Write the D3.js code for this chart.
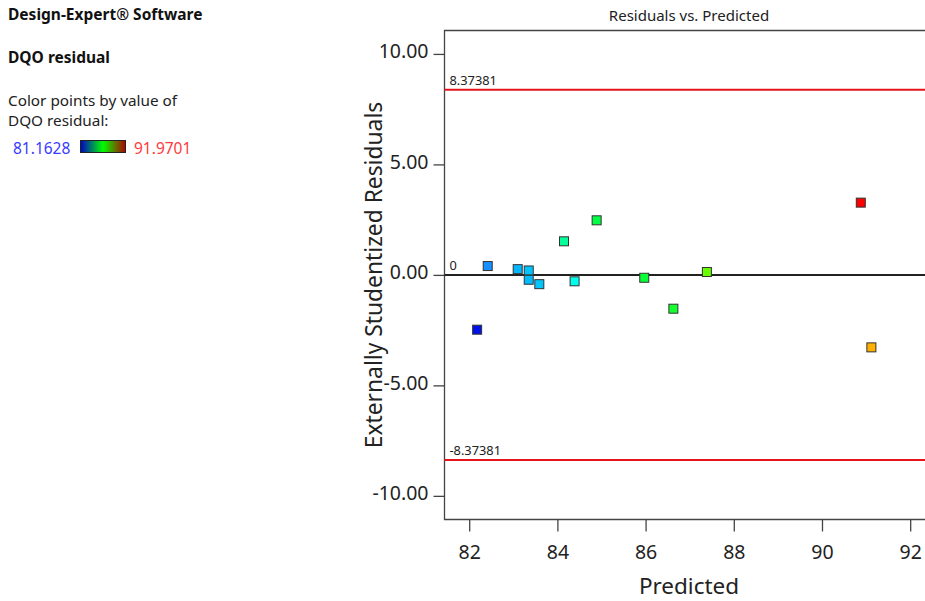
<!DOCTYPE html>
<html>
<head>
<meta charset="utf-8">
<script src="https://cdn.jsdelivr.net/npm/d3@7"></script>
<style>
  body { margin: 0; background: #fff; }
  svg { display: block; font-family: "Noto Sans", "Open Sans", sans-serif; }
</style>
</head>
<body>
<svg id="chart" width="925" height="601"></svg>
<script>
// predicted values, externally studentized residuals and DQO residual (colour)
const predicted = [82.18, 82.42, 83.10, 83.35, 83.35, 83.59, 84.15, 84.39, 84.89, 85.97, 86.63, 87.39, 90.88, 91.12];
const residuals = [-2.48, 0.40, 0.26, 0.20, -0.22, -0.42, 1.52, -0.29, 2.47, -0.13, -1.53, 0.13, 3.27, -3.28];
const dqo = [81.16, 82.55, 83.19, 83.42, 83.28, 83.45, 84.65, 84.29, 85.70, 85.93, 86.13, 87.43, 91.97, 90.00];
const xTicks = [82, 84, 86, 88, 90, 92];
const yTicks = [-10, -5, 0, 5, 10];
const limit = 8.37381;
const dqoMin = 81.1628, dqoMax = 91.9701;

const svg = d3.select("#chart");

// plot area
const plotLeft = 444.5, plotRight = 934, plotTop = 30.5, plotBottom = 519.5;

const x = d3.scaleLinear().domain([81.44, 92.54]).range([plotLeft, plotRight]);
const y = d3.scaleLinear().domain([-11.07, 11.06]).range([plotBottom, plotTop]);

const color = d3.scaleLinear()
    .domain([81.16, 82.5, 83.3, 84.3, 84.65, 85.8, 87.4, 90.0, 91.97])
    .range(["#0010e8", "#1a8cff", "#00bcff", "#00ffee", "#00ff99", "#00ff3c", "#66ff00", "#ffb000", "#ff0000"])
    .clamp(true);

const hyphen = s => s.replace("\u2212", "-");

// left side info text
svg.append("text").attr("x", 8).attr("y", 20)
    .attr("font-size", 15.5).attr("font-weight", "bold").attr("fill", "#111")
    .text("Design-Expert® Software");
svg.append("text").attr("x", 8).attr("y", 63)
    .attr("font-size", 15.5).attr("font-weight", "bold").attr("fill", "#111")
    .text("DQO residual");
svg.append("text").attr("x", 8).attr("y", 106)
    .attr("font-size", 15.3).attr("fill", "#222")
    .text("Color points by value of");
svg.append("text").attr("x", 8).attr("y", 126)
    .attr("font-size", 15.3).attr("fill", "#222")
    .text("DQO residual:");

const grad = svg.append("defs").append("linearGradient").attr("id", "legendGrad");
grad.append("stop").attr("offset", "0%").attr("stop-color", "#0000c8");
grad.append("stop").attr("offset", "50%").attr("stop-color", "#00ff00");
grad.append("stop").attr("offset", "100%").attr("stop-color", "#b00000");

svg.append("text").attr("x", 13).attr("y", 153.5)
    .attr("font-size", 15.5).attr("fill", "#3a3aff")
    .text(dqoMin.toFixed(4));
svg.append("rect").attr("x", 80.5).attr("y", 140.5).attr("width", 45).attr("height", 12)
    .attr("fill", "url(#legendGrad)").attr("stroke", "#222").attr("stroke-width", 1);
svg.append("text").attr("x", 134).attr("y", 153.5)
    .attr("font-size", 15.5).attr("fill", "#ff3a3a")
    .text(dqoMax.toFixed(4));

// title
svg.append("text").attr("x", 689).attr("y", 21).attr("text-anchor", "middle")
    .attr("font-size", 15).attr("fill", "#222")
    .text("Residuals vs. Predicted");

// axes
const yAxis = svg.append("g")
    .attr("transform", `translate(${plotLeft},0)`)
    .call(d3.axisLeft(y).tickValues(yTicks).tickFormat(d => hyphen(d3.format(".2f")(d))).tickSize(11).tickPadding(5));
const xAxis = svg.append("g")
    .attr("transform", `translate(0,${plotBottom})`)
    .call(d3.axisBottom(x).tickValues(xTicks).tickSize(12).tickPadding(14));

[xAxis, yAxis].forEach(g => {
    g.select(".domain").remove();
    g.selectAll(".tick line").attr("stroke", "#444").attr("stroke-width", 1.3);
    g.selectAll(".tick text").attr("font-size", 19.5).attr("fill", "#222")
        .attr("font-family", "\"Noto Sans\", \"Open Sans\", sans-serif");
});
yAxis.selectAll(".tick text").attr("dy", "0.2em");

// frame
svg.append("path")
    .attr("d", `M${plotRight + 5},${plotTop}H${plotLeft}V${plotBottom}H${plotRight + 5}`)
    .attr("fill", "none").attr("stroke", "#444").attr("stroke-width", 1.3);

// axis titles
svg.append("text").attr("x", 689).attr("y", 594).attr("text-anchor", "middle")
    .attr("font-size", 22.5).attr("fill", "#222")
    .text("Predicted");
svg.append("text")
    .attr("transform", `translate(382,${(plotTop + plotBottom) / 2}) rotate(-90)`)
    .attr("text-anchor", "middle")
    .attr("font-size", 22.8).attr("fill", "#222")
    .text("Externally Studentized Residuals");

// reference lines
svg.append("line").attr("x1", plotLeft).attr("x2", plotRight).attr("y1", y(limit)).attr("y2", y(limit))
    .attr("stroke", "#e8141c").attr("stroke-width", 2);
svg.append("line").attr("x1", plotLeft).attr("x2", plotRight).attr("y1", y(-limit)).attr("y2", y(-limit))
    .attr("stroke", "#e8141c").attr("stroke-width", 2);
svg.append("line").attr("x1", plotLeft).attr("x2", plotRight).attr("y1", y(0)).attr("y2", y(0))
    .attr("stroke", "#222").attr("stroke-width", 2);

svg.append("text").attr("x", plotLeft + 5).attr("y", y(limit) - 5)
    .attr("font-size", 12.8).attr("fill", "#222").text(limit.toFixed(5));
svg.append("text").attr("x", plotLeft + 5).attr("y", y(-limit) - 5)
    .attr("font-size", 12.8).attr("fill", "#222").text(hyphen((-limit).toFixed(5)));
svg.append("text").attr("x", plotLeft + 5).attr("y", y(0) - 5)
    .attr("font-size", 12.8).attr("fill", "#222").text("0");

// points
const pts = predicted.map((p, i) => ({ p, r: residuals[i], v: dqo[i] }));
svg.selectAll(".pt")
    .data(pts)
    .enter()
    .append("rect")
    .attr("class", "pt")
    .attr("x", d => x(d.p) - 4.5)
    .attr("y", d => y(d.r) - 4.5)
    .attr("width", 9)
    .attr("height", 9)
    .attr("fill", d => color(d.v))
    .attr("stroke", "#333")
    .attr("stroke-width", 1);
</script>
</body>
</html>
